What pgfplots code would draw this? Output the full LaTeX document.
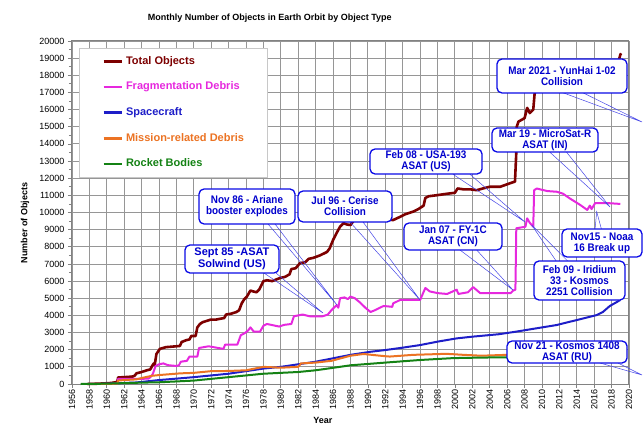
\documentclass[border=0pt]{standalone}
\usepackage{fontspec}
\setmainfont{Liberation Sans}
\newfontfamily\callfont[FakeStretch=0.9]{Liberation Sans}
\usepackage{pgfplots}
\pgfplotsset{compat=1.18}
\definecolor{ctotal}{RGB}{125,0,0}
\definecolor{cfrag}{RGB}{230,40,222}
\definecolor{cspace}{RGB}{30,30,200}
\definecolor{cmiss}{RGB}{236,115,35}
\definecolor{crock}{RGB}{20,130,20}
\definecolor{gridgray}{RGB}{150,150,150}
\definecolor{axgray}{RGB}{130,130,130}
\definecolor{legendgray}{RGB}{200,200,200}
\definecolor{cbox}{RGB}{10,10,230}
\definecolor{ctext}{RGB}{0,0,205}
\definecolor{cptr}{RGB}{70,70,230}
\tikzset{
  callout/.style={draw=cbox, line width=1.3pt, fill=white, rounded corners=5pt, text=ctext,
    font=\callfont\bfseries\fontsize{11}{11}\selectfont, align=center, inner sep=0pt},
  ptr/.style={draw=cptr, line width=0.5pt},
}
\begin{document}
\begin{tikzpicture}[x=1pt,y=1pt]
\begin{axis}[
  at={(72pt,45pt)}, anchor=south west,
  width=557pt, height=343pt, scale only axis,
  xmin=1956, xmax=2020, ymin=0, ymax=20000,
  xtick={1956,1958,...,2020},
  ytick={0,1000,...,20000},
  minor y tick num=1,
  xtick pos=bottom, ytick pos=left,
  tick align=outside,
  major tick length=4pt, minor tick length=3pt,
  grid=major,
  major grid style={color=gridgray, line width=0.9pt},
  axis line style={color=axgray, line width=1pt},
  tick style={color=axgray, line width=0.8pt},
  scaled y ticks=false,
  /pgf/number format/assume math mode=true,
  /pgf/number format/1000 sep={},
  xticklabel style={rotate=90, anchor=east, font=\fontsize{9}{10}\selectfont, inner sep=1pt},
  yticklabel style={font=\fontsize{9}{10}\selectfont},
  title={Monthly Number of Objects in Earth Orbit by Object Type},
  title style={at={(axis description cs:0.355,1.05)}, anchor=center, font=\bfseries\fontsize{9}{11}\selectfont},
  xlabel={Year},
  xlabel style={at={(axis description cs:0.4506,-0.105)}, anchor=center, font=\bfseries\fontsize{9}{11}\selectfont},
  ylabel={Number of Objects},
  ylabel style={at={(axis description cs:-0.0844,0.469)}, anchor=center, font=\bfseries\fontsize{9}{11}\selectfont},
  clip=false,
  legend cell align=left,
  legend image code/.code={\draw[#1, line width=2.6pt] (0pt,0pt) -- (18pt,0pt);},
  legend style={at={(axis description cs:0.0126,0.98)}, anchor=north west,
    draw=legendgray, fill=white, line width=0.8pt,
    inner xsep=23pt, inner ysep=8pt, row sep=15.1pt, column sep=3pt,
    font=\bfseries\fontsize{11}{13}\selectfont,
    nodes={inner sep=0pt, text height=8pt, text depth=2.5pt}},
]
% Total Objects
\addplot[color=ctotal, line width=2.6pt, line join=round] coordinates {
(1957.8,2) (1958.5,10) (1959.5,30) (1960.5,60) (1961.2,120) (1961.3,380) (1962.0,400) (1962.6,420)
(1963.0,440) (1963.2,480) (1963.4,620) (1964.0,700) (1964.6,800) (1965.0,850) (1965.2,1050)
(1965.4,1200) (1965.5,1100) (1965.7,1750) (1966.1,2050) (1966.8,2150) (1967.3,2170) (1968.0,2200)
(1968.4,2220) (1968.6,2450) (1969.1,2550) (1969.5,2600) (1969.7,2800) (1970.2,2800) (1970.4,3300)
(1970.7,3500) (1971.0,3600) (1971.9,3750) (1972.5,3750) (1973.0,3800) (1973.5,3850) (1973.7,4050)
(1974.3,4100) (1974.9,4200) (1975.2,4300) (1975.5,4700) (1975.8,4950) (1976.1,5100) (1976.5,5450)
(1976.8,5400) (1977.2,5350) (1977.5,5500) (1978.0,6000) (1978.4,6050) (1979.0,6000) (1979.9,6180)
(1980.5,6250) (1981.0,6400) (1981.2,6700) (1981.7,6750) (1982.2,7050) (1982.8,7100) (1983.2,7300)
(1983.7,7350) (1984.5,7500) (1985.3,7700) (1985.6,7900) (1986.0,8400) (1986.4,8800) (1986.8,9170)
(1987.2,9380) (1987.6,9300) (1988.0,9270) (1988.4,9550) (1990.0,9650) (1992.0,9600) (1992.9,9560)
(1993.5,9700) (1994.3,9900) (1995.2,10050) (1995.8,10200) (1996.4,10400) (1996.6,10850)
(1997.0,10950) (1997.8,11000) (1998.5,11050) (1999.2,11100) (2000.0,11150) (2000.3,11400) (2001.0,11350)
(2001.8,11350) (2002.5,11300) (2003.2,11400) (2004.0,11500) (2005.2,11500) (2006.3,11700) (2006.9,11800)
(2007.05,13500) (2007.1,15000) (2007.3,15300) (2008.0,15500) (2008.3,16100) (2008.6,15800) (2009.0,16000)
(2009.15,16900) (2009.3,17200) (2010,17200) (2012,17300) (2014,17400) (2016,17800) (2018,18500)
(2018.8,18800) (2019.0,19200) (2019.1,19280)
};
\addlegendentry{\textcolor{ctotal}{Total Objects}}
% Fragmentation Debris
\addplot[color=cfrag, line width=2pt, line join=round] coordinates {
(1961.25,150) (1961.3,300) (1962.5,300) (1963.5,300) (1964.8,310) (1965.1,450) (1965.3,600) (1965.6,1050)
(1966.0,1150) (1966.5,1200) (1967.0,1100) (1968.0,1050) (1968.3,1100) (1968.5,1300) (1969.2,1350)
(1969.5,1600) (1970.4,1600) (1970.6,2100) (1971.7,2200) (1972.8,2100) (1973.4,2050) (1973.6,2300)
(1975.0,2300) (1975.4,2850) (1975.8,2950) (1976.2,3100) (1976.5,3300) (1976.9,3050) (1977.6,3050)
(1978.0,3400) (1978.4,3500) (1979.8,3350) (1980.4,3450) (1981.2,3500) (1981.5,3950) (1982.5,4050)
(1983.3,3950) (1984.8,3950) (1985.4,4050) (1985.8,4300) (1986.4,4600) (1986.6,4450) (1986.8,5000)
(1987.3,5050) (1987.7,4950) (1988.0,5100) (1988.5,5000) (1989.1,4750) (1989.7,4450) (1990.3,4200)
(1990.8,4300) (1991.4,4450) (1991.8,4550) (1992.8,4500) (1992.9,4700) (1993.3,4800) (1993.7,4900)
(1996.0,4900) (1996.6,5600) (1997.1,5400) (1998.0,5300) (1999.1,5250) (2000.2,5500) (2000.4,5250)
(2001.5,5350) (2002.1,5650) (2002.9,5300) (2004.9,5300) (2006.4,5300) (2006.7,5450) (2006.95,5500)
(2007.05,9080) (2008.1,9170) (2008.3,9660) (2008.6,9400) (2009.0,9170) (2009.1,11300) (2009.4,11400)
(2010.6,11250) (2011.7,11210) (2012.4,11100) (2013.2,10820) (2014.4,10440) (2015.2,10150) (2015.5,10400)
(2015.7,10200) (2016.1,10540) (2017.5,10550) (2019.0,10500)
};
\addlegendentry{\textcolor{cfrag}{Fragmentation Debris}}
% Spacecraft
\addplot[color=cspace, line width=2pt, line join=round] coordinates {
(1957.8,1) (1959,10) (1960,20) (1961,40) (1962,60) (1963.4,90) (1964,120) (1966,230) (1968.4,330)
(1970,400) (1972,500) (1974,600) (1976,750) (1978,900) (1980,1000) (1982,1150) (1984,1300) (1986,1500)
(1988,1700) (1990.3,1880) (1992,1980) (1994,2120) (1996,2270) (1998,2470) (2000.2,2660) (2002,2760)
(2005,2900) (2007,3050) (2009.4,3250) (2011.7,3440) (2014,3730) (2016.3,4020) (2017,4200) (2017.8,4550)
(2018.5,4750) (2019,4900)
};
\addlegendentry{\textcolor{cspace}{Spacecraft}}
% Mission-related Debris
\addplot[color=cmiss, line width=2pt, line join=round] coordinates {
(1957.8,0) (1960,5) (1961.2,20) (1961.3,200) (1962,230) (1963.4,270) (1964,350) (1965.2,480) (1966.1,525)
(1968.4,620) (1970,650) (1972,750) (1974,760) (1976,800) (1978,1000) (1980,950) (1982,1000) (1982.3,1200)
(1984,1250) (1985.8,1350) (1988,1650) (1989.5,1750) (1991.4,1650) (1992.5,1600) (1995.2,1700) (1999,1760)
(2001,1700) (2003,1650) (2006,1700) (2008,1750) (2012,1800) (2016,1850) (2019,1900)
};
\addlegendentry{\textcolor{cmiss}{Mission-related Debris}}
% Rocket Bodies
\addplot[color=crock, line width=2pt, line join=round] coordinates {
(1957.0,0) (1958,5) (1960,20) (1962,50) (1964,80) (1966,100) (1968,150) (1970,200) (1972,300) (1974,400)
(1976,500) (1978,600) (1980,650) (1982,700) (1984,800) (1985.8,930) (1988,1090) (1992.3,1260) (1996,1400)
(1999.8,1510) (2003,1540) (2006,1560) (2010,1600) (2015,1650) (2019,1700)
};
\addlegendentry{\textcolor{crock}{Rocket Bodies}}

% pointers
\draw[ptr] (axis cs:1978.06,6472) -- (axis cs:1984.84,4140) -- (axis cs:1979.44,6472);
\draw[ptr] (axis cs:1978.52,9330) -- (axis cs:1986.45,4606) -- (axis cs:1979.33,9330);
\draw[ptr] (axis cs:1987.94,9446) -- (axis cs:1995.99,4898) -- (axis cs:1989.44,9446);
\draw[ptr] (axis cs:1999.78,12228) -- (axis cs:2008.05,9446) -- (axis cs:2001.73,12228);
\draw[ptr] (axis cs:2000.58,7814) -- (axis cs:2006.67,5481) -- (axis cs:2002.50,7814);
\draw[ptr] (axis cs:2010.92,13511) -- (axis cs:2017.82,10321) -- (axis cs:2012.84,13511);
\draw[ptr] (axis cs:2012.38,16990) -- (axis cs:2021.50,15277) -- (axis cs:2014.68,16990);
\draw[ptr] (axis cs:2016.09,8980) -- (axis cs:2016.29,10047) -- (axis cs:2016.86,8980);
\draw[ptr] (axis cs:2011.69,7131) -- (axis cs:2008.82,9271) -- (axis cs:2013.03,7131);
\draw[ptr] (axis cs:2016.67,1224) -- (axis cs:2021.50,525) -- (axis cs:2018.73,1224);
% boxes
\node[callout, minimum width=94pt, minimum height=28pt, font=\bfseries\fontsize{11}{11.7}\selectfont] at (axis cs:1974.38,7289) {Sept 85 -ASAT\\Solwind (US)};
\node[callout, minimum width=96pt, minimum height=35pt] at (axis cs:1976.11,10350) {Nov 86 - Ariane\\booster explodes};
\node[callout, minimum width=94pt, minimum height=31pt] at (axis cs:1987.37,10350) {Jul 96 - Cerise\\Collision};
\node[callout, minimum width=112pt, minimum height=25pt] at (axis cs:1996.68,12974) {Feb 08 - USA-193\\ASAT (US)};
\node[callout, minimum width=98pt, minimum height=27pt] at (axis cs:1999.78,8601) {Jan 07 - FY-1C\\ASAT (CN)};
\node[callout, minimum width=106pt, minimum height=24pt] at (axis cs:2010.35,14228) {Mar 19 - MicroSat-R\\ASAT (IN)};
\node[callout, minimum width=130pt, minimum height=34pt] at (axis cs:2012.30,17960) {Mar 2021 - YunHai 1-02\\Collision};
\node[callout, minimum width=80pt, minimum height=28pt] at (axis cs:2016.90,8222) {Nov15 - Noaa\\16 Break up};
\node[callout, minimum width=91pt, minimum height=39pt] at (axis cs:2014.31,6035) {Feb 09 - Iridium\\33 - Kosmos\\2251 Collision};
\node[callout, minimum width=120pt, minimum height=22pt] at (axis cs:2012.88,1866) {Nov 21 - Kosmos 1408\\ASAT (RU)};
\end{axis}
\pgfresetboundingbox
\useasboundingbox (0pt,0pt) rectangle (643pt,429pt);
\end{tikzpicture}
\end{document}
